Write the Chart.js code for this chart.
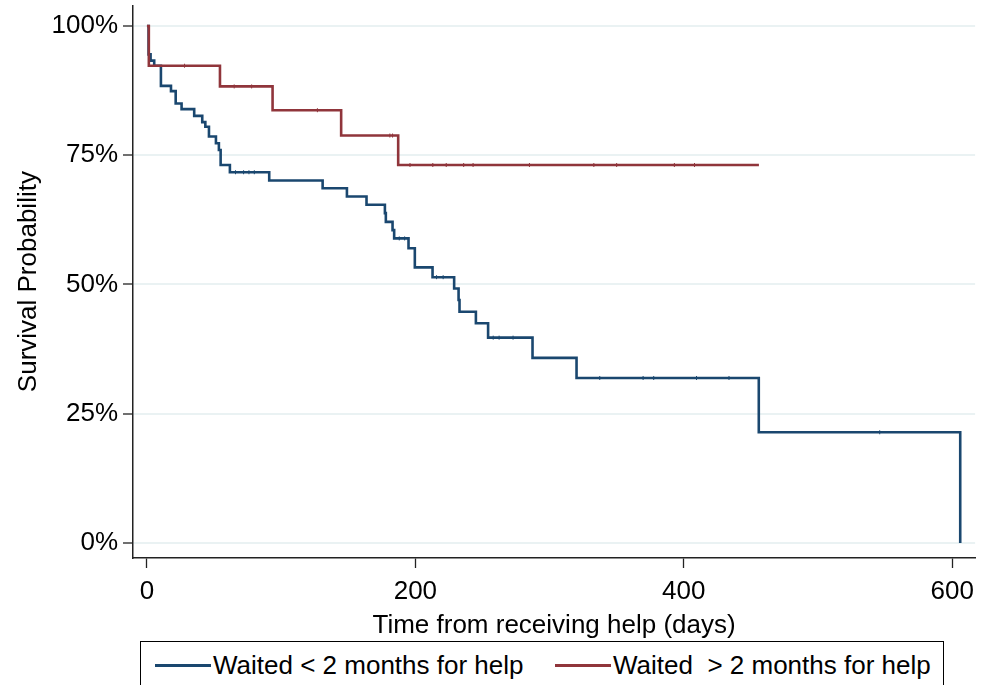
<!DOCTYPE html>
<html>
<head>
<meta charset="utf-8">
<script src="https://cdn.jsdelivr.net/npm/chart.js@4"></script>
<style>
  body { margin: 0; background: #fff; width: 982px; height: 685px; overflow: hidden; position: relative;
         font-family: "Liberation Sans", Arial, sans-serif; }
  #wrap { position: absolute; left: 0; top: 0; width: 982px; height: 641px; }
  #legend { position: absolute; left: 140px; top: 641px; width: 804px; height: 60px;
            border: 1.5px solid #000; box-sizing: border-box; }
  .item { position: absolute; top: 8px; font-size: 26px; white-space: pre; display: flex; align-items: center; color: #000; }
  .swatch { display: inline-block; width: 56px; height: 2.5px; margin-right: 2px; }
</style>
</head>
<body>
<div id="wrap"><canvas id="km" width="982" height="641"></canvas></div>
<div id="legend">
  <div class="item" style="left:14px"><span class="swatch" style="background:#1a476f"></span>Waited &lt; 2 months for help</div>
  <div class="item" style="left:414px"><span class="swatch" style="background:#90353b"></span>Waited  &gt; 2 months for help</div>
</div>
<script>
// Kaplan-Meier steps (days, survival %)
const shortDays = [0, 1.2, 2.7, 5.4, 10.4, 17.9, 21.4, 25.8, 35.2, 41.2, 43.5, 46.2, 51.4, 53.6, 54.9, 61.8,
  91.1, 130.9, 149, 163.6, 177.3, 178, 183, 184.2, 194.9, 199.6, 212.8, 228.9, 232.2, 232.9, 245.1, 254.2,
  287.3, 320.1, 455.9, 606, 606];
const shortSurv = [100, 94.5, 93.3, 92.3, 88.4, 87.4, 85.0, 83.9, 82.6, 81.4, 80.5, 78.6, 77.3, 76.0, 73.1, 71.7,
  70.1, 68.6, 67.0, 65.4, 63.8, 62.1, 60.5, 58.9, 57.0, 53.3, 51.4, 49.2, 47.0, 44.7, 42.5, 39.7,
  35.8, 31.9, 21.4, 21.4, 0];
const longDays = [0, 1.4, 54.4, 93.6, 144.7, 187.2, 456];
const longSurv = [100, 92.3, 88.3, 83.7, 78.8, 73.1, 73.1];

// censored times
const shortCensor = [66, 72, 76, 80, 188, 192, 215.8, 220.7, 258, 262.4, 272.8, 337.4, 369.7, 377.6, 409.5, 433.7, 546];
const longCensor = [28, 65, 78, 127, 181, 183, 196, 213, 223, 236, 243, 285, 333, 350, 393, 408];

const xTicks = [0, 200, 400, 600];
const yTicks = [0, 25, 50, 75, 100];

const blue = '#1a476f';
const red = '#90353b';

function steps(days, surv) {
  return days.map((d, i) => ({ x: d, y: surv[i] }));
}

// level of the curve at time t
function levelAt(days, surv, t) {
  let v = surv[0];
  for (let i = 0; i < days.length; i++) {
    if (days[i] <= t) v = surv[i];
  }
  return v;
}

function censorPts(times, days, surv) {
  return times.map(t => ({ x: t, y: levelAt(days, surv, t) }));
}

const font = { family: '"Liberation Sans", Arial, sans-serif', size: 26 };

new Chart(document.getElementById('km'), {
  type: 'line',
  data: {
    datasets: [
      {
        label: 'Waited < 2 months for help',
        data: steps(shortDays, shortSurv),
        stepped: true,
        borderColor: blue,
        borderWidth: 2.6,
        pointRadius: 0,
        fill: false,
        order: 2
      },
      {
        label: 'Waited  > 2 months for help',
        data: steps(longDays, longSurv),
        stepped: true,
        borderColor: red,
        borderWidth: 2.6,
        pointRadius: 0,
        fill: false,
        order: 0
      },
      {
        data: censorPts(shortCensor, shortDays, shortSurv),
        showLine: false,
        pointStyle: 'line',
        rotation: 90,
        pointRadius: 2,
        pointBorderWidth: 1,
        pointBorderColor: blue,
        order: 3
      },
      {
        data: censorPts(longCensor, longDays, longSurv),
        showLine: false,
        pointStyle: 'line',
        rotation: 90,
        pointRadius: 2,
        pointBorderWidth: 1,
        pointBorderColor: red,
        order: 1
      }
    ]
  },
  options: {
    responsive: false,
    animation: false,
    layout: { padding: { top: 0, right: 5, left: 0, bottom: 0 } },
    plugins: {
      legend: { display: false },
      tooltip: { enabled: false }
    },
    scales: {
      x: {
        type: 'linear',
        min: -10.4,
        max: 617.1,
        afterBuildTicks: s => { s.ticks = xTicks.map(v => ({ value: v })); },
        afterFit: s => { s.height = 83; },
        grid: { drawOnChartArea: false, tickLength: 10, tickColor: '#222', tickWidth: 1.3 },
        border: { color: '#222', width: 1.5 },
        ticks: { font: font, color: '#000', padding: 8, maxRotation: 0 },
        title: {
          display: true,
          text: 'Time from receiving help (days)',
          font: font,
          color: '#000',
          padding: { top: 0, bottom: 0 }
        }
      },
      y: {
        min: -2.92,
        max: 104,
        afterBuildTicks: s => { s.ticks = yTicks.map(v => ({ value: v })); },
        afterFit: s => { s.width = 133; },
        grid: { color: '#eaf2f3', lineWidth: 2, tickLength: 10, tickColor: '#222', tickWidth: 1.3 },
        border: { color: '#222', width: 1.5 },
        ticks: { font: { family: font.family, size: 26, lineHeight: 0.02 }, color: '#000', padding: 5,
                 callback: v => v + '%' },
        title: {
          display: true,
          text: 'Survival Probability',
          font: font,
          color: '#000',
          padding: { top: 13, bottom: 0 }
        }
      }
    }
  }
});
</script>
</body>
</html>
